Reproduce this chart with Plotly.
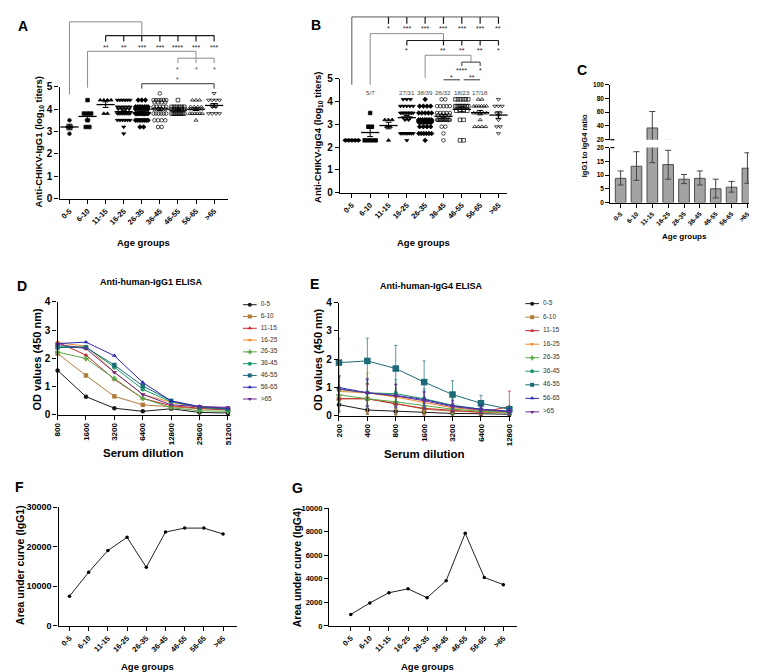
import numpy as np
import plotly.graph_objects as go

W, H = 757, 672
FONT = "Liberation Sans"

age_groups = ["0-5", "6-10", "11-15", "16-25", "26-35", "36-45", "46-55", "56-65", ">65"]

# ---------------- Panel A: anti-CHIKV IgG1 (log10 titers) per subject
igg1_0_5 = [3.5, 3.2, 3.2, 2.9]
igg1_6_10 = [4.4, 3.8, 3.8, 3.8, 3.5, 3.2, 3.2]
igg1_11_15 = [4.4, 4.4, 4.4, 4.4, 3.8, 3.8]
igg1_16_25 = [4.4, 4.4, 4.4, 4.4, 4.4, 4.4, 4.1, 4.1, 4.1, 4.1, 4.1, 4.0, 4.0, 4.0, 4.0,
              3.8, 3.8, 3.8, 3.8, 3.8, 3.8, 3.8, 3.8, 3.5, 3.5, 3.5, 3.5, 3.5, 3.5, 3.2, 2.9]
igg1_26_35 = [4.4, 4.4, 4.4, 4.1, 4.1, 4.1, 4.1, 4.1, 4.1, 4.1, 4.1, 4.0, 4.0, 4.0, 4.0, 4.0, 4.0,
              3.8, 3.8, 3.8, 3.8, 3.8, 3.8, 3.8, 3.8, 3.8, 3.8, 3.8, 3.8,
              3.5, 3.5, 3.5, 3.5, 3.5, 3.5, 3.5, 3.5, 3.2, 3.2]
igg1_36_45 = [4.7, 4.4, 4.4, 4.4, 4.4, 4.4, 4.4, 4.3, 4.3, 4.3, 4.3, 4.1, 4.1, 4.1, 4.1, 4.1,
              4.0, 4.0, 4.0, 4.0, 3.8, 3.8, 3.8, 3.8, 3.8, 3.8, 3.5, 3.5, 3.5, 3.5, 3.2, 3.2]
igg1_46_55 = [4.4, 4.1, 4.1, 4.1, 4.1, 4.1, 4.1, 4.0, 4.0, 4.0, 4.0, 4.0, 4.0,
              3.8, 3.8, 3.8, 3.8, 3.8, 3.8, 3.8, 3.8, 3.8, 3.8]
igg1_56_65 = [4.4, 4.4, 4.4, 4.1, 4.1, 4.1, 4.1, 4.0, 4.0, 4.0, 4.0,
              3.8, 3.8, 3.8, 3.8, 3.8, 3.8, 3.5]
igg1_over65 = [4.7, 4.4, 4.4, 4.4, 4.4, 4.2, 4.2, 4.1, 4.1, 3.8, 3.8, 3.8, 3.8]
igg1_groups = [igg1_0_5, igg1_6_10, igg1_11_15, igg1_16_25, igg1_26_35,
               igg1_36_45, igg1_46_55, igg1_56_65, igg1_over65]
igg1_stars_top = ["**", "**", "***", "***", "****", "***", "***"]

# ---------------- Panel B: anti-CHIKV IgG4 (log10 titers) per subject
igg4_0_5 = [2.3, 2.3, 2.3, 2.3, 2.3]
igg4_6_10 = [3.5, 2.9, 2.9, 2.3, 2.3, 2.3, 2.3]
igg4_11_15 = [3.2, 3.2, 3.2, 2.9, 2.9, 2.3]
igg4_16_25 = [4.1, 4.1, 4.1, 3.8, 3.8, 3.8, 3.8, 3.8, 3.5, 3.5, 3.5, 3.5, 3.5, 3.5, 3.5, 3.5, 3.5,
              3.3, 3.3, 3.3, 3.2, 3.2, 2.6, 2.6, 2.6, 2.6, 2.6, 2.6, 2.6, 2.6, 2.3]
igg4_26_35 = [4.1, 3.8, 3.8, 3.8, 3.8, 3.5, 3.5, 3.5, 3.5, 3.5, 3.2, 3.2, 3.2, 3.2, 3.2, 3.2, 3.2, 3.2,
              3.1, 3.1, 3.1, 3.1, 3.1, 3.1, 3.1, 3.1, 3.1, 3.1, 2.9, 2.9, 2.9, 2.9,
              2.6, 2.6, 2.6, 2.6, 2.6, 2.6, 2.3]
igg4_36_45 = [4.1, 4.1, 3.8, 3.8, 3.8, 3.8, 3.8, 3.5, 3.5, 3.5, 3.5, 3.5, 3.4, 3.4, 3.4, 3.4,
              3.2, 3.2, 3.2, 3.2, 3.2, 3.2, 3.2, 3.2, 3.2, 3.2, 3.2, 3.2, 2.9, 2.9, 2.6, 2.3]
igg4_46_55 = [4.1, 4.1, 4.1, 4.1, 4.1, 4.1, 3.8, 3.8, 3.8, 3.8, 3.8, 3.8, 3.8, 3.8, 3.8,
              3.6, 3.6, 3.6, 3.6, 3.2, 3.2, 2.3, 2.3]
igg4_56_65 = [4.1, 4.1, 3.8, 3.8, 3.8, 3.8, 3.8, 3.8, 3.5, 3.5, 3.5, 3.5, 3.5, 3.2,
              2.9, 2.9, 2.9, 2.9]
igg4_over65 = [4.1, 3.8, 3.8, 3.8, 3.5, 3.5, 3.4, 3.2, 2.9, 2.9, 2.6]
igg4_groups = [igg4_0_5, igg4_6_10, igg4_11_15, igg4_16_25, igg4_26_35,
               igg4_36_45, igg4_46_55, igg4_56_65, igg4_over65]
igg4_positive = ["", "5/7", "", "27/31", "38/39", "26/32", "18/23", "17/18", ""]
igg4_stars_top = ["*", "***", "***", "***", "***", "***", "**"]
igg4_stars_mid = ["*", "**", "**", "**", "*"]

# ---------------- Panel C: IgG1 to IgG4 ratio (mean with error range)
ratio_mean = [8.8, 13.2, 37.1, 13.8, 8.5, 8.8, 5.0, 5.6, 12.5]
ratio_hi = [11.5, 18.5, 61.0, 19.0, 10.2, 11.5, 8.5, 7.7, 18.1]
ratio_lo = [6.4, 8.1, 14.5, 8.5, 6.9, 6.4, 1.7, 3.8, 7.0]

# ---------------- Panel D: anti-human IgG1 ELISA OD
dil_igg1 = ["800", "1600", "3200", "6400", "12800", "25600", "51200"]
od1_0_5 = [1.57, 0.64, 0.23, 0.12, 0.21, 0.08, 0.06]
od1_6_10 = [2.17, 1.39, 0.65, 0.35, 0.28, 0.21, 0.17]
od1_11_15 = [2.57, 2.11, 1.25, 0.58, 0.32, 0.23, 0.17]
od1_16_25 = [2.55, 2.43, 1.51, 0.72, 0.44, 0.26, 0.20]
od1_26_35 = [2.22, 1.99, 1.28, 0.58, 0.25, 0.14, 0.12]
od1_36_45 = [2.43, 2.40, 1.68, 0.90, 0.46, 0.26, 0.20]
od1_46_55 = [2.38, 2.38, 1.76, 1.02, 0.49, 0.26, 0.20]
od1_56_65 = [2.52, 2.57, 2.09, 1.14, 0.49, 0.29, 0.23]
od1_over65 = [2.49, 2.34, 1.50, 0.72, 0.35, 0.29, 0.26]
od_igg1 = [od1_0_5, od1_6_10, od1_11_15, od1_16_25, od1_26_35,
           od1_36_45, od1_46_55, od1_56_65, od1_over65]

# ---------------- Panel E: anti-human IgG4 ELISA OD (mean, SD)
dil_igg4 = ["200", "400", "800", "1600", "3200", "6400", "12800"]
od4_0_5 = [0.39, 0.20, 0.16, 0.12, 0.08, 0.07, 0.05]
od4_6_10 = [0.60, 0.60, 0.43, 0.23, 0.16, 0.12, 0.09]
od4_11_15 = [0.60, 0.60, 0.42, 0.26, 0.19, 0.12, 0.32]
od4_16_25 = [0.86, 0.81, 0.66, 0.46, 0.28, 0.19, 0.14]
od4_26_35 = [0.74, 0.60, 0.49, 0.35, 0.23, 0.16, 0.12]
od4_36_45 = [0.93, 0.81, 0.78, 0.60, 0.37, 0.23, 0.14]
od4_46_55 = [1.88, 1.94, 1.67, 1.19, 0.75, 0.44, 0.23]
od4_56_65 = [1.00, 0.81, 0.72, 0.57, 0.35, 0.23, 0.16]
od4_over65 = [0.95, 0.81, 0.70, 0.53, 0.32, 0.21, 0.14]
od_igg4 = [od4_0_5, od4_6_10, od4_11_15, od4_16_25, od4_26_35,
           od4_36_45, od4_46_55, od4_56_65, od4_over65]
sd4_0_5 = [0.25, 0.15, 0.10, 0.05, 0.03, 0.03, 0.02]
sd4_6_10 = [0.50, 0.55, 0.45, 0.20, 0.10, 0.08, 0.05]
sd4_11_15 = [0.40, 0.50, 0.40, 0.25, 0.15, 0.10, 0.55]
sd4_16_25 = [0.55, 0.70, 0.45, 0.35, 0.20, 0.12, 0.08]
sd4_26_35 = [0.60, 0.55, 0.45, 0.30, 0.20, 0.10, 0.07]
sd4_36_45 = [0.50, 0.50, 0.50, 0.35, 0.25, 0.15, 0.10]
sd4_46_55 = [0.85, 0.81, 0.82, 0.75, 0.49, 0.28, 0.10]
sd4_56_65 = [0.40, 0.45, 0.40, 0.30, 0.20, 0.15, 0.10]
sd4_over65 = [0.45, 0.50, 0.40, 0.30, 0.20, 0.12, 0.08]
sd_igg4 = [sd4_0_5, sd4_6_10, sd4_11_15, sd4_16_25, sd4_26_35,
           sd4_36_45, sd4_46_55, sd4_56_65, sd4_over65]

# ---------------- Panels F, G: area under curve
auc_igg1 = [7480, 13550, 19030, 22350, 14790, 23690, 24680, 24680, 23190]
auc_igg4 = [970, 1950, 2810, 3140, 2390, 3830, 7860, 4110, 3500]

# ---------------- styling
series_colors = ["#1a1a1a", "#b07d3a", "#c8282e", "#f28a2e", "#5aa845",
                 "#1f9a6a", "#1c6b78", "#2a2ab0", "#6b2d90"]
series_symbols = ["circle", "square", "triangle-up", "triangle-down", "cross",
                  "circle", "square", "triangle-up", "triangle-down"]
dot_symbols = ["circle", "square", "triangle-up", "triangle-down", "diamond",
               "circle-open", "square-open", "triangle-up-open", "triangle-down-open"]

# panel geometry (pixels)
GEO = {
    "A": dict(x=(48, 218), xr=(-0.548, 8.767), y=(74, 188), yr=(0, 5)),
    "B": dict(x=(331, 500), xr=(-0.649, 8.486), y=(66, 182), yr=(0, 5)),
    "C": dict(x=(604, 753), xr=(-0.644, 8.67), y=(136, 192), yr=(0, 20)),
    "CU": dict(x=(604, 753), xr=(-0.644, 8.67), y=(72, 128), yr=(20, 100)),
    "D": dict(x=(46, 220), xr=(0, 6.07), y=(293, 408), yr=(0, 4)),
    "E": dict(x=(330, 504), xr=(0, 6.07), y=(294, 409), yr=(0, 4)),
    "F": dict(x=(47, 227), xr=(-0.568, 8.72), y=(502, 623), yr=(0, 30000)),
    "G": dict(x=(320, 510), xr=(-1.14, 8.73), y=(503, 623), yr=(0, 10000)),
}


def P(xpx):
    return xpx / W


def Q(ypx):
    return 1 - ypx / H


def cat_px(g, i):
    geo = GEO[g]
    (a, b), (r0, r1) = geo["x"], geo["xr"]
    return a + (i - r0) / (r1 - r0) * (b - a)


def swarm(vals, step, maxw=0.7):
    vals = np.asarray(vals, float)
    offs = np.zeros(len(vals))
    for v in np.unique(vals):
        idx = np.where(vals == v)[0]
        n = len(idx)
        s = step if n <= 1 else min(step, maxw / (n - 1))
        offs[idx] = (np.arange(n) - (n - 1) / 2) * s
    return offs


fig = go.Figure()


def add_dot_panel(groups, xa, ya):
    for i, vals in enumerate(groups):
        v = np.array(vals, float)
        fig.add_trace(go.Scatter(
            x=i + swarm(v, 0.2), y=v, mode="markers", xaxis=xa, yaxis=ya,
            marker=dict(symbol=dot_symbols[i], size=3.6, color="black",
                        line=dict(width=0.7, color="black")),
            cliponaxis=False, hoverinfo="skip"))
        m = v.mean()
        sem = v.std(ddof=1) / np.sqrt(len(v)) if len(v) > 1 else 0.0
        fig.add_trace(go.Scatter(
            x=[i], y=[m], mode="markers", xaxis=xa, yaxis=ya,
            marker=dict(symbol="line-ew", size=13, color="black",
                        line=dict(width=1.3, color="black")),
            error_y=dict(type="data", array=[sem], color="black", thickness=1, width=3),
            cliponaxis=False, hoverinfo="skip"))


add_dot_panel(igg1_groups, "x", "y")
add_dot_panel(igg4_groups, "x2", "y2")

# Panel C bars, drawn on lower and upper segment of the broken axis
err_plus = [h - m for h, m in zip(ratio_hi, ratio_mean)]
err_minus = [m - l for m, l in zip(ratio_mean, ratio_lo)]
for xa, ya in (("x3", "y3"), ("x4", "y4")):
    fig.add_trace(go.Bar(
        x=list(range(len(age_groups))), y=ratio_mean, width=0.67, xaxis=xa, yaxis=ya,
        marker=dict(color="#a3a3a3", line=dict(color="#4d4d4d", width=1)),
        error_y=dict(type="data", symmetric=False, array=err_plus, arrayminus=err_minus,
                     color="#444444", thickness=1, width=3),
        hoverinfo="skip"))

# Panel D
for i, ys in enumerate(od_igg1):
    fig.add_trace(go.Scatter(
        x=list(range(len(dil_igg1))), y=ys, mode="lines+markers", xaxis="x5", yaxis="y5",
        line=dict(color=series_colors[i], width=1),
        marker=dict(symbol=series_symbols[i], size=4.5, color=series_colors[i]),
        cliponaxis=False, hoverinfo="skip"))

# Panel E
for i, ys in enumerate(od_igg4):
    fig.add_trace(go.Scatter(
        x=list(range(len(dil_igg4))), y=ys, mode="lines+markers", xaxis="x6", yaxis="y6",
        line=dict(color=series_colors[i], width=1),
        marker=dict(symbol=series_symbols[i], size=6.5 if i == 6 else 4.5, color=series_colors[i]),
        error_y=dict(type="data", array=sd_igg4[i], color=series_colors[i], thickness=0.7, width=1.5),
        cliponaxis=False, hoverinfo="skip"))

# Panels F and G
for ys, xa, ya in ((auc_igg1, "x7", "y7"), (auc_igg4, "x8", "y8")):
    fig.add_trace(go.Scatter(
        x=list(range(len(age_groups))), y=ys, mode="lines+markers", xaxis=xa, yaxis=ya,
        line=dict(color="#222222", width=1), marker=dict(size=3.5, color="black"),
        cliponaxis=False, hoverinfo="skip"))

# custom legends for D and E (hidden axes, 1 unit = 1 px horizontally)
for xa, ya in (("x9", "y9"), ("x10", "y10")):
    for i, name in enumerate(age_groups):
        fig.add_trace(go.Scatter(
            x=[0, 14], y=[i, i], mode="lines", xaxis=xa, yaxis=ya,
            line=dict(color=series_colors[i], width=1),
            cliponaxis=False, hoverinfo="skip"))
        fig.add_trace(go.Scatter(
            x=[7], y=[i], mode="markers", xaxis=xa, yaxis=ya,
            marker=dict(symbol=series_symbols[i], size=4, color=series_colors[i]),
            cliponaxis=False, hoverinfo="skip"))
        fig.add_trace(go.Scatter(
            x=[18], y=[i], mode="text", text=[name], textposition="middle right",
            textfont=dict(family=FONT, size=6.5, color="#333333"),
            xaxis=xa, yaxis=ya, cliponaxis=False, hoverinfo="skip"))


def tf(size):
    return dict(family=FONT, size=size, color="black", weight="bold")


def xax(g, anchor, ticktext, angle, size, visible=True):
    geo = GEO[g]
    return dict(domain=[P(geo["x"][0]), P(geo["x"][1])], range=list(geo["xr"]), anchor=anchor,
                showline=True, linecolor="black", linewidth=1.3, ticks="outside", ticklen=4,
                tickwidth=1.2, tickcolor="black", showgrid=False, zeroline=False,
                tickmode="array", tickvals=list(range(len(ticktext))), ticktext=ticktext,
                tickangle=angle, tickfont=tf(size), fixedrange=True, visible=visible)


def yax(g, anchor, tickvals, size):
    geo = GEO[g]
    return dict(domain=[Q(geo["y"][1]), Q(geo["y"][0])], range=list(geo["yr"]), anchor=anchor,
                showline=True, linecolor="black", linewidth=1.3, ticks="outside", ticklen=4,
                tickwidth=1.2, tickcolor="black", showgrid=False, zeroline=False,
                tickmode="array", tickvals=tickvals, tickformat="d",
                tickfont=tf(size), fixedrange=True)


layout = dict(
    width=W, height=H, margin=dict(l=0, r=0, t=0, b=0),
    paper_bgcolor="white", plot_bgcolor="white", showlegend=False,
    xaxis=xax("A", "y", age_groups, -45, 7.5),
    yaxis=yax("A", "x", [0, 1, 2, 3, 4, 5], 10),
    xaxis2=xax("B", "y2", age_groups, -45, 7.5),
    yaxis2=yax("B", "x2", [0, 1, 2, 3, 4, 5], 10),
    xaxis3=xax("C", "y3", age_groups, -45, 6.5),
    yaxis3=yax("C", "x3", [0, 5, 10, 15, 20], 6.5),
    xaxis4=xax("CU", "y4", age_groups, -45, 6.5, visible=False),
    yaxis4=yax("CU", "x4", [20, 40, 60, 80, 100], 6.5),
    xaxis5=xax("D", "y5", dil_igg1, -90, 8),
    yaxis5=yax("D", "x5", [0, 1, 2, 3, 4], 10),
    xaxis6=xax("E", "y6", dil_igg4, -90, 8),
    yaxis6=yax("E", "x6", [0, 1, 2, 3, 4], 10),
    xaxis7=xax("F", "y7", age_groups, -45, 7.5),
    yaxis7=yax("F", "x7", [0, 10000, 20000, 30000], 9),
    xaxis8=xax("G", "y8", age_groups, -45, 7.5),
    yaxis8=yax("G", "x8", [0, 2000, 4000, 6000, 8000, 10000], 7.5),
    xaxis9=dict(domain=[P(233), P(293)], range=[0, 60], visible=False, anchor="y9", fixedrange=True),
    yaxis9=dict(domain=[Q(398), Q(290)], range=[8.5, -0.5], visible=False, anchor="x9", fixedrange=True),
    xaxis10=dict(domain=[P(518), P(578)], range=[0, 60], visible=False, anchor="y10", fixedrange=True),
    yaxis10=dict(domain=[Q(412), Q(288)], range=[8.5, -0.5], visible=False, anchor="x10", fixedrange=True),
)
fig.update_layout(**layout)

shapes = []
annotations = []


def path(pts, color, width=1.0):
    d = "M " + " L ".join(f"{P(x):.5f},{Q(y):.5f}" for x, y in pts)
    shapes.append(dict(type="path", path=d, xref="paper", yref="paper",
                       line=dict(color=color, width=width)))


def label(x, y, text, size, bold=False, angle=0, color="black", family=FONT):
    annotations.append(dict(x=P(x), y=Q(y), xref="paper", yref="paper", text=text,
                            showarrow=False, textangle=angle, xanchor="center", yanchor="middle",
                            font=dict(family=family, size=size, color=color,
                                      weight="bold" if bold else "normal")))


# ---- Panel A significance brackets
A = lambda i: cat_px("A", i)
path([(A(0), 82), (A(0), 8), (A(4), 8), (A(4), 22)], "#8c8c8c")
path([(A(2), 22), (A(8), 22)], "#1a1a1a", 1.2)
for k, i in enumerate(range(2, 9)):
    path([(A(i), 22), (A(i), 28)], "#1a1a1a", 1.2)
    label(A(i), 34, igg1_stars_top[k], 7, color="#222")
path([(A(1), 75), (A(1), 38), (A(7), 38), (A(7), 45)], "#8c8c8c")
path([(A(6), 45), (A(8), 45)], "#8c8c8c")
for i in (6, 7, 8):
    path([(A(i), 45), (A(i), 50)], "#8c8c8c")
    label(A(i), 56, "*", 7, color="#444")
path([(A(4), 76), (A(4), 71), (A(8), 71), (A(8), 76)], "#333333")
label(A(6), 67, "*", 7, color="#444")

# ---- Panel B significance brackets
B = lambda i: cat_px("B", i)
path([(B(0), 72), (B(0), 3), (B(8), 3)], "#555555")
for k, i in enumerate(range(2, 9)):
    path([(B(i), 3), (B(i), 10)], "#1a1a1a", 1.2)
    label(B(i), 15, igg4_stars_top[k], 7, color="#222")
path([(B(1), 72), (B(1), 20), (B(5), 20), (B(5), 27)], "#8c8c8c")
path([(B(3), 27), (B(8), 27)], "#1a1a1a", 1.2)
for k, i in enumerate((3, 5, 6, 7, 8)):
    path([(B(i), 27), (B(i), 32)], "#1a1a1a", 1.2)
    label(B(i), 37, igg4_stars_mid[k], 7, color="#222")
path([(B(4), 65), (B(4), 42), (B(6.5), 42), (B(6.5), 49)], "#8c8c8c")
path([(B(6), 49), (B(7), 49)], "#333333")
for i in (6, 7):
    path([(B(i), 49), (B(i), 53)], "#333333")
label(B(6), 58, "****", 7, color="#222")
label(B(7), 58, "*", 7, color="#222")
path([(B(5), 67), (B(5.9), 67)], "#333333")
label(B(5.45), 65, "*", 7, color="#222")
path([(B(6.1), 67), (B(7), 67)], "#333333")
label(B(6.55), 65, "**", 7, color="#222")
for i, t in enumerate(igg4_positive):
    if t:
        annotations.append(dict(x=i, y=4.4, xref="x2", yref="y2", text=t, showarrow=False,
                                yanchor="middle",
                                font=dict(family=FONT, size=6.2, color="#444")))

# ---- Panel C axis break marks
for yb in (128, 136):
    path([(604, yb), (608, yb)], "black", 1.2)

# ---- panel letters
for t, x, y in (("A", 11, 12), ("B", 307, 11), ("C", 575, 57), ("D", 10, 277),
                ("E", 305, 275), ("F", 8, 482), ("G", 288, 483)):
    label(x, y, t, 14, bold=True)

# ---- titles
label(140, 273, "Anti-human-IgG1 ELISA", 9, bold=True)
label(423, 277, "Anti-human-IgG4 ELISA", 9, bold=True)

# ---- axis titles
label(133, 233, "Age groups", 9.5, bold=True)
label(415, 233, "Age groups", 9.5, bold=True)
label(679, 227, "Age groups", 8, bold=True)
label(137, 664, "Age groups", 9.5, bold=True)
label(419, 664, "Age groups", 9.5, bold=True)
label(133, 447, "Serum dilution", 11.5, bold=True)
label(416, 448, "Serum dilution", 11.5, bold=True)
label(27, 130, "Anti-CHIKV-IgG1 (log<sub>10</sub> titers)", 9.5, bold=True, angle=-90)
label(309, 126, "Anti-CHIKV-IgG4 (log<sub>10</sub> titers)", 9.5, bold=True, angle=-90)
label(578, 134, "IgG1 to IgG4 ratio", 7.5, bold=True, angle=-90)
label(25, 352, "OD values (450 nm)", 11, bold=True, angle=-90)
label(309, 352, "OD values (450 nm)", 11, bold=True, angle=-90)
label(8, 561, "Area under curve (IgG1)", 10.5, bold=True, angle=-90)
label(288, 563, "Area under curve (IgG4)", 10.5, bold=True, angle=-90)

fig.update_layout(shapes=shapes, annotations=annotations)
fig.write_html("out.html")
